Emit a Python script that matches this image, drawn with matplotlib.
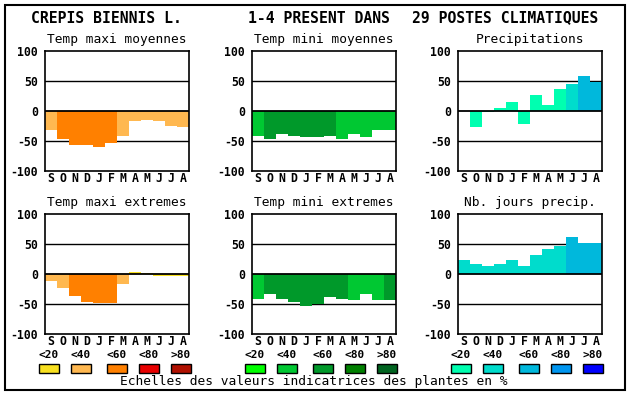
import matplotlib
matplotlib.use("Agg")
import matplotlib.pyplot as plt
from matplotlib.patches import Rectangle

# data
months = ['S', 'O', 'N', 'D', 'J', 'F', 'M', 'A', 'M', 'J', 'J', 'A']
scale_labels = ['<20', '<40', '<60', '<80', '>80']

tmax_moy = [-31, -47, -56, -56, -60, -54, -41, -16, -15, -16, -25, -26]
tmin_moy = [-41, -46, -38, -41, -43, -43, -41, -46, -38, -44, -31, -32]
precip = [0, -26, -2, 5, 15, -21, 26, 10, 36, 45, 59, 49]
tmax_ext = [-12, -24, -37, -47, -49, -49, -17, 4, 2, -4, -4, -4]
tmin_ext = [-41, -34, -41, -47, -54, -50, -38, -42, -44, -33, -44, -44]
nb_jours = [24, 16, 14, 17, 24, 14, 31, 41, 47, 62, 52, 52]

# colour class of each bar (index into the scale)
cls_tmax_moy = [1, 2, 2, 2, 2, 2, 1, 1, 1, 1, 1, 1]
cls_tmin_moy = [1, 2, 2, 2, 2, 2, 2, 1, 1, 1, 1, 1]
cls_precip = [0, 0, 0, 0, 0, 0, 0, 0, 0, 1, 2, 2]
cls_tmax_ext = [1, 1, 2, 2, 2, 2, 1, 0, 0, 0, 0, 0]
cls_tmin_ext = [1, 2, 2, 2, 2, 2, 2, 2, 1, 1, 1, 2]
cls_nb_jours = [1, 1, 1, 1, 1, 1, 1, 1, 1, 2, 2, 2]

warm = ['#f8e020', '#ffb850', '#ff8000', '#e80000', '#b01000']
green = ['#00ff00', '#00c832', '#00992a', '#008000', '#006420']
blue = ['#00ffb0', '#00dccc', '#00b8dc', '#0096f0', '#0000ff']

W, H = 630, 394
fig = plt.figure(figsize=(W / 100, H / 100), dpi=100)
mono = 'DejaVu Sans Mono'


def px_axes(x0, y0, x1, y1):
    return fig.add_axes([x0 / W, 1 - y1 / H, (x1 - x0) / W, (y1 - y0) / H])


def panel(x0, y0, title, vals, cls, cols):
    ax = px_axes(x0, y0, x0 + 144, y0 + 120)
    ax.bar(range(12), vals, width=1.0, align='edge',
           color=[cols[c] for c in cls], zorder=2)
    for v in (50, -50):
        ax.axhline(v, color='black', lw=1.0, zorder=1)
    ax.axhline(0, color='black', lw=1.3, zorder=3)
    ax.set_xlim(0, 12)
    ax.set_ylim(-100, 100)
    ax.set_yticks([100, 50, 0, -50, -100])
    ax.set_yticklabels(['100', '50', '0', '-50', '-100'],
                       fontfamily=mono, fontweight='bold', fontsize=8.3)
    ax.set_xticks([i + 0.5 for i in range(12)])
    ax.set_xticklabels(months, fontfamily=mono, fontweight='bold', fontsize=8.3)
    ax.tick_params(axis='y', length=0, pad=5)
    ax.tick_params(axis='x', length=0, pad=1)
    for s in ax.spines.values():
        s.set_linewidth(1.2)
        s.set_zorder(4)
    ax.set_title(title, fontfamily=mono, fontsize=9.3, pad=6)
    return ax


panel(45, 51, 'Temp maxi moyennes', tmax_moy, cls_tmax_moy, warm)
panel(252, 51, 'Temp mini moyennes', tmin_moy, cls_tmin_moy, green)
panel(458, 51, 'Precipitations', precip, cls_precip, blue)
panel(45, 214, 'Temp maxi extremes', tmax_ext, cls_tmax_ext, warm)
panel(252, 214, 'Temp mini extremes', tmin_ext, cls_tmin_ext, green)
panel(458, 214, 'Nb. jours precip.', nb_jours, cls_nb_jours, blue)

# overlay axes in pixel coords for frame, header and legend
ov = fig.add_axes([0, 0, 1, 1], zorder=-1)
ov.set_xlim(0, W)
ov.set_ylim(H, 0)
ov.axis('off')
ov.add_patch(Rectangle((5, 5), 620, 385, fill=False, lw=1.5, ec='black'))

for x, txt in [(31, 'CREPIS BIENNIS L.'), (248, '1-4 PRESENT DANS'),
               (412, '29 POSTES CLIMATIQUES')]:
    ov.text(x, 18, txt, fontfamily=mono, fontweight='bold',
            fontsize=10.6, va='center', ha='left')

sw_x = [[39, 71, 107, 139, 171], [245, 277, 313, 345, 377],
        [451, 483, 519, 551, 583]]
for xs, cols in zip(sw_x, [warm, green, blue]):
    for x, c, lab in zip(xs, cols, scale_labels):
        ov.add_patch(Rectangle((x, 364), 20, 9, fc=c, ec='black', lw=1.0))
        ov.text(x + 10, 355, lab, fontfamily=mono, fontweight='bold',
                fontsize=8.0, ha='center', va='center')

ov.text(314, 382, 'Echelles des valeurs indicatrices des plantes en %',
        fontfamily=mono, fontsize=9.3, ha='center', va='center')

fig.savefig('out.png', dpi=100)
